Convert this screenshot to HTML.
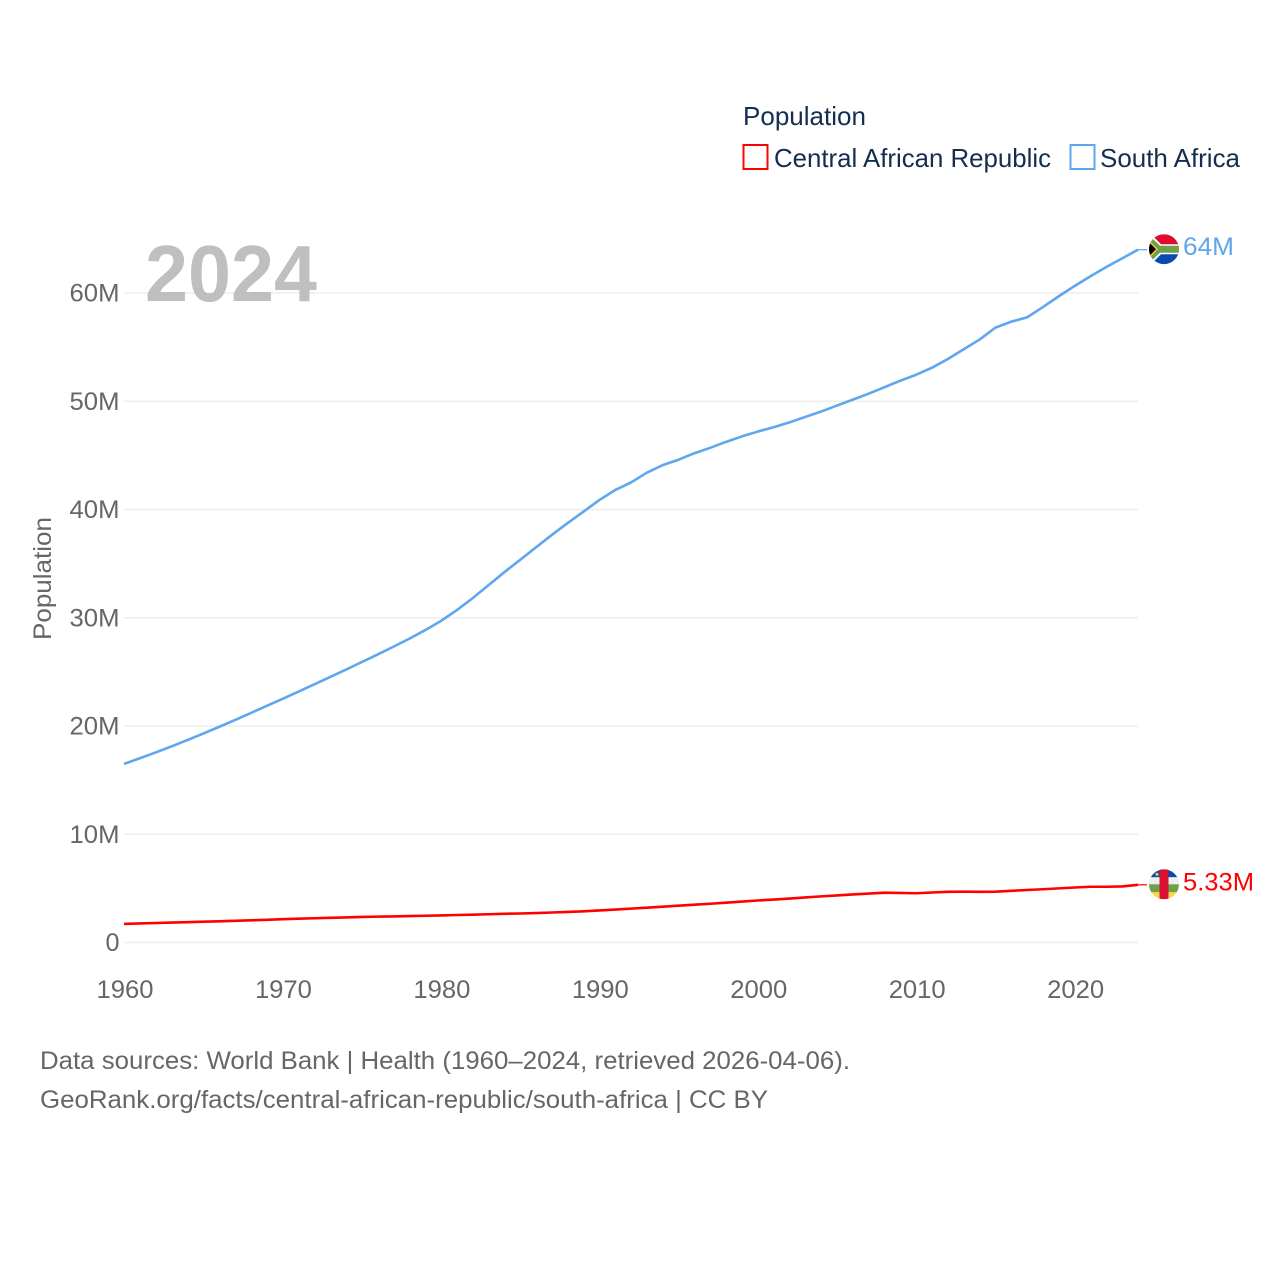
<!DOCTYPE html>
<html>
<head>
<meta charset="utf-8">
<title>Population: Central African Republic and South Africa</title>
<style>
html,body{margin:0;padding:0;background:#fff;}
#chart{display:block;font-family:"Liberation Sans",Arial,sans-serif;}
</style>
</head>
<body>
<svg id="chart" xmlns="http://www.w3.org/2000/svg" width="1280" height="1280" viewBox="0 0 1280 1280">
  <defs>
    <clipPath id="flag-clip-sa"><circle cx="0" cy="0" r="15"/></clipPath>
    <clipPath id="flag-clip-car"><circle cx="0" cy="0" r="15"/></clipPath>
  </defs>
  <rect width="1280" height="1280" fill="#fff"/>

  <g id="grid"></g>
  <text x="145" y="301" font-size="80" font-weight="700" fill="#b4b4b4" fill-opacity="0.85" textLength="172" lengthAdjust="spacingAndGlyphs">2024</text>
  <g id="y-ticks"></g>
  <g id="x-ticks"></g>
  <text transform="translate(51,640) rotate(-90)" font-size="25" fill="#666" textLength="123" lengthAdjust="spacingAndGlyphs">Population</text>
  <g id="series"></g>

  <g id="end-sa">
    <g clip-path="url(#flag-clip-sa)">
      <rect x="-15" y="-15" width="30" height="15" fill="#de0a30"/>
      <rect x="-15" y="0" width="30" height="15" fill="#0a4ab0"/>
      <path d="M-15,-17 L-3,-5 L15,-5 L15,5 L-3,5 L-15,17 Z" fill="#fff"/>
      <path d="M-15,-14 L-4,-3.5 L15,-3.5 L15,3.5 L-4,3.5 L-15,14 Z" fill="#6ea04a"/>
      <path d="M-15,-9 L-6,0 L-15,9 Z" fill="#f5c530"/>
      <path d="M-15,-7 L-8,0 L-15,7 Z" fill="#000"/>
    </g>
  </g>
  <g id="end-car">
    <g clip-path="url(#flag-clip-car)">
      <rect x="-15" y="-15" width="30" height="8" fill="#0a4ab0"/>
      <rect x="-15" y="-7" width="30" height="7" fill="#eeeeee"/>
      <rect x="-15" y="0" width="30" height="8" fill="#6ea04a"/>
      <rect x="-15" y="8" width="30" height="7" fill="#fbd44e"/>
      <rect x="-4.5" y="-15" width="9" height="30" fill="#d8112f"/>
      <circle cx="-7" cy="-10" r="1.6" fill="#f5c530"/>
    </g>
  </g>
  <text id="label-sa" x="1183" font-size="25" fill="#5ea6ee" textLength="51" lengthAdjust="spacingAndGlyphs"></text>
  <text id="label-car" x="1183" font-size="25" fill="#ff0000" textLength="71" lengthAdjust="spacingAndGlyphs"></text>

  <g>
    <text x="743" y="125" font-size="26" fill="#152d4f" textLength="123" lengthAdjust="spacingAndGlyphs">Population</text>
    <g>
      <rect x="743.5" y="145" width="24" height="24" fill="#fff" stroke="#ff0000" stroke-width="2"/>
      <text x="774" y="167" font-size="26" fill="#152d4f" textLength="277" lengthAdjust="spacingAndGlyphs">Central African Republic</text>
    </g>
    <g>
      <rect x="1070.5" y="145" width="24" height="24" fill="#fff" stroke="#5ea6ee" stroke-width="2"/>
      <text x="1100" y="167" font-size="26" fill="#152d4f" textLength="140" lengthAdjust="spacingAndGlyphs">South Africa</text>
    </g>
  </g>

  <g>
    <text x="40" y="1069" font-size="25" fill="#666" textLength="810" lengthAdjust="spacingAndGlyphs">Data sources: World Bank | Health (1960–2024, retrieved 2026-04-06).</text>
    <text x="40" y="1108" font-size="25" fill="#666" textLength="728" lengthAdjust="spacingAndGlyphs">GeoRank.org/facts/central-african-republic/south-africa | CC BY</text>
  </g>
</svg>
<script>
const years = [1960,1961,1962,1963,1964,1965,1966,1967,1968,1969,1970,1971,1972,1973,1974,1975,1976,1977,1978,1979,1980,1981,1982,1983,1984,1985,1986,1987,1988,1989,1990,1991,1992,1993,1994,1995,1996,1997,1998,1999,2000,2001,2002,2003,2004,2005,2006,2007,2008,2009,2010,2011,2012,2013,2014,2015,2016,2017,2018,2019,2020,2021,2022,2023,2024];
const southAfrica = [16.5,17.02,17.56,18.12,18.7,19.3,19.92,20.55,21.2,21.85,22.5,23.17,23.84,24.52,25.2,25.9,26.6,27.32,28.06,28.85,29.7,30.7,31.8,33.0,34.2,35.35,36.5,37.65,38.75,39.8,40.87,41.8,42.5,43.4,44.1,44.6,45.2,45.7,46.25,46.75,47.2,47.6,48.05,48.55,49.05,49.6,50.15,50.7,51.3,51.9,52.45,53.1,53.9,54.8,55.7,56.8,57.35,57.75,58.7,59.7,60.65,61.55,62.4,63.2,64.0];
const centralAfrica = [1.72,1.76,1.8,1.84,1.88,1.92,1.96,2.0,2.05,2.1,2.15,2.2,2.24,2.28,2.32,2.36,2.39,2.41,2.44,2.47,2.5,2.54,2.57,2.61,2.65,2.68,2.72,2.77,2.82,2.88,2.96,3.04,3.13,3.22,3.31,3.4,3.49,3.58,3.68,3.78,3.88,3.97,4.06,4.16,4.26,4.35,4.44,4.52,4.6,4.58,4.55,4.62,4.68,4.7,4.68,4.69,4.77,4.85,4.92,5.0,5.08,5.15,5.15,5.18,5.33];
const yTickValues = [0,10,20,30,40,50,60];
const yTickLabels = ["0","10M","20M","30M","40M","50M","60M"];
const xTickValues = [1960,1970,1980,1990,2000,2010,2020];
const endLabels = ["64M","5.33M"];

const NS = "http://www.w3.org/2000/svg";
function xScale(year){ return 124 + (year - 1960) * (1138 - 124) / (2024 - 1960); }
function yScale(v){ return 942.5 - v * 10.825; }
function mk(tag, parent, attrs){
  const el = document.createElementNS(NS, tag);
  for (const k in attrs) el.setAttribute(k, attrs[k]);
  parent.appendChild(el);
  return el;
}

const grid = document.getElementById("grid");
const yTicks = document.getElementById("y-ticks");
yTickValues.forEach(function(v, i){
  const y = yScale(v);
  const line = mk("line", grid, {x1:124, x2:1138, y1:y, y2:y, stroke:"#ededed", "stroke-width":1.5});
  
  
  const t = mk("text", yTicks, {x:119.5, y:y+8.5, "font-size":25, fill:"#666", "text-anchor":"end"});
  t.textContent = yTickLabels[i];
  
  
  t.setAttribute('textLength', yTickLabels[i].length === 1 ? 14 : 50);
  t.setAttribute('lengthAdjust', 'spacingAndGlyphs');
});

const xTicks = document.getElementById("x-ticks");
xTickValues.forEach(function(yr){
  const t = mk("text", xTicks, {x:xScale(yr)+1, y:998, "font-size":25, fill:"#666", "text-anchor":"middle", textLength:57, lengthAdjust:"spacingAndGlyphs"});
  t.textContent = String(yr);
  
  
});

function linePoints(values){
  return values.map(function(v, i){ return xScale(years[i]).toFixed(2) + "," + yScale(v).toFixed(2); }).join(" ");
}
const seriesGroup = document.getElementById("series");
const lineSA = mk("polyline", seriesGroup, {points:linePoints(southAfrica), fill:"none", stroke:"#5ea6ee", "stroke-width":2.6, "stroke-linejoin":"round"});


const lineCAR = mk("polyline", seriesGroup, {points:linePoints(centralAfrica), fill:"none", stroke:"#ff0000", "stroke-width":2.6, "stroke-linejoin":"round"});



const lastYear = years[years.length - 1];
const endX = xScale(lastYear);
const saEndY = yScale(southAfrica[southAfrica.length - 1]);
const carEndY = yScale(centralAfrica[centralAfrica.length - 1]);
const connSA = mk("line", seriesGroup, {x1:endX, x2:endX+9, y1:saEndY, y2:saEndY, stroke:"#5ea6ee", "stroke-width":1.2});


const connCAR = mk("line", seriesGroup, {x1:endX, x2:endX+9, y1:carEndY, y2:carEndY, stroke:"#ff0000", "stroke-width":1.2});



document.getElementById("end-sa").setAttribute("transform", "translate(" + (endX + 26) + "," + (saEndY - 0.5) + ")");
document.getElementById("end-car").setAttribute("transform", "translate(" + (endX + 26) + "," + (carEndY - 0.5) + ")");
const labelSA = document.getElementById("label-sa");
labelSA.textContent = endLabels[0];
labelSA.setAttribute("y", saEndY + 5.5);
const labelCAR = document.getElementById("label-car");
labelCAR.textContent = endLabels[1];
labelCAR.setAttribute("y", carEndY + 5.5);
</script>
</body>
</html>
